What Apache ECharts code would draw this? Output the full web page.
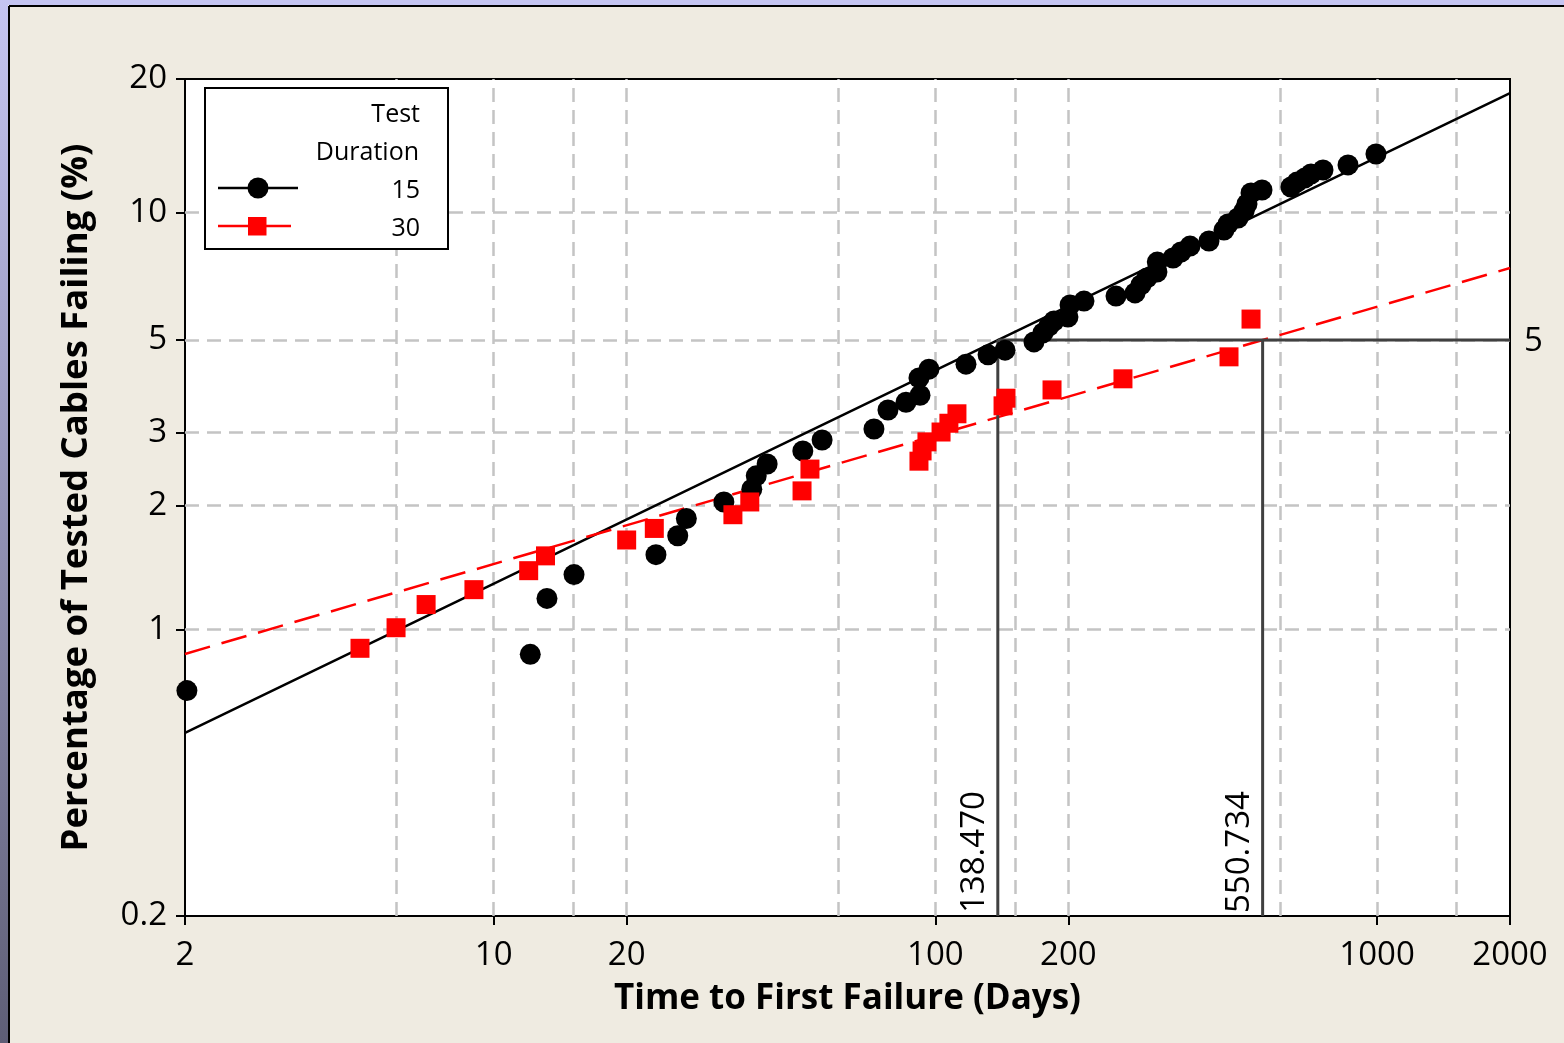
<!DOCTYPE html>
<html>
<head>
    <meta charset="utf-8">
    <title>Weibull probability plot</title>
    <script src="https://cdn.jsdelivr.net/npm/echarts@6/dist/echarts.min.js"></script>
    <style>
        html, body { margin: 0; padding: 0; background: #C5C5F2; }
        #main { width: 1564px; height: 1043px; }
    </style>
</head>
<body>
    <div id="main"></div>
    <script>
        // failures, test duration 15
        var blackDays = [2.02, 12.1, 13.2, 15.2, 23.3, 26.1, 27.3, 33.2, 38.4, 39.3, 41.6, 50.1, 55.4, 72.6, 78.1,
            85.8, 92.3, 91.8, 96.7, 117.3, 131.6, 143.8, 167.2, 175.2, 180.8, 185.6, 199.6, 201.8, 217, 256.4,
            283.2, 292, 301.4, 317.4, 318, 345.2, 359.8, 377.2, 416.4, 450.2, 459.8, 484.4, 499.8, 507.6, 518.4,
            549, 638.4, 658.8, 686.8, 708.6, 754.4, 859.6, 994.4];
        var blackPct = [0.71, 0.87, 1.19, 1.36, 1.52, 1.69, 1.86, 2.04, 2.19, 2.36, 2.52, 2.71, 2.88, 3.06, 3.40,
            3.55, 3.69, 4.06, 4.26, 4.38, 4.61, 4.73, 4.95, 5.20, 5.40, 5.55, 5.67, 6.06, 6.19, 6.36,
            6.47, 6.76, 7.02, 7.25, 7.65, 7.82, 8.08, 8.34, 8.57, 9.09, 9.39, 9.70, 10.07, 10.45, 11.08,
            11.26, 11.44, 11.74, 12.00, 12.25, 12.51, 12.85, 13.61];
        // failures, test duration 30
        var redDays = [4.98, 6.01, 7.03, 9.02, 12.0, 13.1, 20.0, 23.1, 34.8, 38.0, 49.9, 52.0, 91.8, 93.3, 95.7,
            103, 107.3, 111.9, 142.3, 144.5, 183.7, 265.9, 462.2, 518.4];
        var redPct = [0.90, 1.01, 1.15, 1.25, 1.39, 1.51, 1.65, 1.76, 1.90, 2.04, 2.17, 2.45, 2.56, 2.71, 2.85,
            3.01, 3.16, 3.33, 3.48, 3.63, 3.80, 4.04, 4.56, 5.61];
        // fitted lines
        var blackFitDays = [2, 138.47, 2000];
        var blackFitPct = [0.56, 5, 18.63];
        var redFitDays = [2, 550.734, 2000];
        var redFitPct = [0.872, 5, 7.41];
        // 5 percent reference
        var refPct = 5;
        var refDays = [138.47, 550.734];
        var refLabels = ['138.470', '550.734'];
        // ticks and gridlines
        var xTicks = [2, 10, 20, 100, 200, 1000, 2000];
        var xGrid = [6, 10, 15, 20, 60, 100, 150, 200, 600, 1000, 1500];
        var yTicks = [0.2, 1, 2, 3, 5, 10, 20];
        var yGrid = [1, 2, 3, 5, 10];

        var FONT = "'Open Sans', 'Noto Sans', sans-serif";

        // weibull paper: x = log10(t), y = ln(-ln(1-p))
        function lx(t) { return Math.log10(t); }
        function wy(pct) { return Math.log(-Math.log(1 - pct / 100)); }
        function pairs(ds, ps) {
            return ds.map(function (d, i) { return [lx(d), wy(ps[i])]; });
        }
        function pick(list, f) {
            return function (v) {
                for (var i = 0; i < list.length; i++) {
                    if (Math.abs(f(list[i]) - v) < 1e-6) return String(list[i]);
                }
                return '';
            };
        }

        var chart = echarts.init(document.getElementById('main'));

        var gridMarks = xGrid.map(function (t) { return { xAxis: lx(t) }; })
            .concat(yGrid.map(function (p) { return { yAxis: wy(p) }; }));

        var option = {
            backgroundColor: '#EFEBE1',
            animation: false,
            grid: {
                left: 185, right: 54, top: 79, bottom: 127,
                show: true, backgroundColor: '#fff', borderColor: '#000', borderWidth: 2
            },
            xAxis: {
                type: 'value',
                min: lx(2), max: lx(2000),
                name: 'Time to First Failure (Days)',
                nameLocation: 'middle', nameGap: 66,
                nameTextStyle: { fontFamily: FONT, fontWeight: 'bold', fontSize: 35, color: '#000' },
                axisLine: { lineStyle: { color: '#000', width: 2 } },
                axisTick: { customValues: xTicks.map(lx), length: 9, lineStyle: { color: '#000', width: 2 } },
                axisLabel: {
                    customValues: xTicks.map(lx), formatter: pick(xTicks, lx),
                    margin: 23, fontFamily: FONT, fontSize: 33, color: '#000'
                },
                splitLine: { show: false }
            },
            yAxis: {
                type: 'value',
                min: wy(0.2), max: wy(20),
                name: 'Percentage of Tested Cables Failing (%)',
                nameLocation: 'middle', nameGap: 90,
                nameTextStyle: { fontFamily: FONT, fontWeight: 'bold', fontSize: 36.5, color: '#000' },
                axisLine: { lineStyle: { color: '#000', width: 2 } },
                axisTick: { customValues: yTicks.map(wy), length: 9, lineStyle: { color: '#000', width: 2 } },
                axisLabel: {
                    customValues: yTicks.map(wy), formatter: pick(yTicks, wy),
                    margin: 18, fontFamily: FONT, fontSize: 33, color: '#000'
                },
                splitLine: { show: false }
            },
            series: [
                {
                    type: 'line', data: [], silent: true, z: 1,
                    markLine: {
                        silent: true, symbol: 'none', animation: false, z: 1,
                        label: { show: false },
                        lineStyle: { color: '#C4C4C4', width: 2.5, type: [14, 8] },
                        data: gridMarks
                    }
                },
                {
                    name: '15', type: 'line', data: pairs(blackFitDays, blackFitPct),
                    showSymbol: false, z: 3, lineStyle: { color: '#000', width: 2.5 }
                },
                {
                    name: '30', type: 'line', data: pairs(redFitDays, redFitPct),
                    showSymbol: false, z: 3, lineStyle: { color: '#FF0000', width: 2.5, type: [26, 12] }
                },
                {
                    type: 'line', data: [[lx(refDays[0]), wy(0.2)], [lx(refDays[0]), wy(refPct)]],
                    showSymbol: false, z: 4, lineStyle: { color: '#404040', width: 3 }
                },
                {
                    type: 'line', data: [[lx(refDays[0]), wy(refPct)], [lx(2000), wy(refPct)]],
                    showSymbol: false, z: 4, lineStyle: { color: '#404040', width: 3 }
                },
                {
                    type: 'line', data: [[lx(refDays[1]), wy(0.2)], [lx(refDays[1]), wy(refPct)]],
                    showSymbol: false, z: 4, lineStyle: { color: '#404040', width: 3 }
                },
                {
                    name: '15', type: 'scatter', data: pairs(blackDays, blackPct), clip: false,
                    symbol: 'circle', symbolSize: 21, z: 5, itemStyle: { color: '#000', opacity: 1 }
                },
                {
                    name: '30', type: 'scatter', data: pairs(redDays, redPct), clip: false,
                    symbol: 'rect', symbolSize: 19, z: 5, itemStyle: { color: '#FF0000', opacity: 1 }
                }
            ]
        };
        chart.setOption(option);

        // labels for the 5 percent reference lines
        var labels = [];
        refDays.forEach(function (d, i) {
            var pt = chart.convertToPixel({ gridIndex: 0 }, [lx(d), wy(0.2)]);
            labels.push({
                type: 'text', x: pt[0] - 7, y: pt[1] - 3, rotation: Math.PI / 2, z: 50,
                style: { text: refLabels[i], font: '33px ' + FONT, fill: '#000', align: 'left', verticalAlign: 'bottom' }
            });
        });
        var p5 = chart.convertToPixel({ gridIndex: 0 }, [lx(2000), wy(refPct)]);
        labels.push({
            type: 'text', x: p5[0] + 14, y: p5[1] + 2, z: 50,
            style: { text: String(refPct), font: '33px ' + FONT, fill: '#000', align: 'left', verticalAlign: 'middle' }
        });

        // window frame and legend
        var frame = [
            { type: 'rect', shape: { x: 0, y: 0, width: 1564, height: 5 }, style: { fill: '#C5C5F2' }, z: 60 },
            {
                type: 'rect', shape: { x: 0, y: 0, width: 8, height: 1043 }, z: 60,
                style: {
                    fill: new echarts.graphic.LinearGradient(0, 0, 0, 1, [
                        { offset: 0, color: '#C5C5F2' }, { offset: 1, color: '#5E5E76' }
                    ])
                }
            },
            { type: 'line', shape: { x1: 9, y1: 6, x2: 9, y2: 1043 }, style: { stroke: '#000', lineWidth: 2 }, z: 60 },
            { type: 'line', shape: { x1: 9, y1: 6, x2: 1564, y2: 6 }, style: { stroke: '#000', lineWidth: 2 }, z: 60 }
        ];
        var legendFont = '25px ' + FONT;
        var legend = [
            { type: 'rect', shape: { x: 205, y: 88, width: 243, height: 161 }, style: { fill: '#fff', stroke: '#000', lineWidth: 2 }, z: 100 },
            { type: 'text', x: 420, y: 115, z: 101, style: { text: 'Test', font: legendFont, fill: '#000', align: 'right', verticalAlign: 'middle' } },
            { type: 'text', x: 419, y: 153, z: 101, style: { text: 'Duration', font: legendFont, fill: '#000', align: 'right', verticalAlign: 'middle' } },
            { type: 'text', x: 420, y: 191, z: 101, style: { text: '15', font: legendFont, fill: '#000', align: 'right', verticalAlign: 'middle' } },
            { type: 'text', x: 420, y: 229, z: 101, style: { text: '30', font: legendFont, fill: '#000', align: 'right', verticalAlign: 'middle' } },
            { type: 'line', shape: { x1: 218, y1: 188, x2: 298, y2: 188 }, style: { stroke: '#000', lineWidth: 2.5 }, z: 101 },
            { type: 'circle', shape: { cx: 258, cy: 188, r: 10.5 }, style: { fill: '#000' }, z: 102 },
            { type: 'line', shape: { x1: 218, y1: 226, x2: 291, y2: 226 }, style: { stroke: '#FF0000', lineWidth: 2.5 }, z: 101 },
            { type: 'rect', shape: { x: 248, y: 217, width: 18.5, height: 18.5 }, style: { fill: '#FF0000' }, z: 102 }
        ];
        chart.setOption({ graphic: frame.concat(legend).concat(labels) });
    </script>
</body>
</html>
